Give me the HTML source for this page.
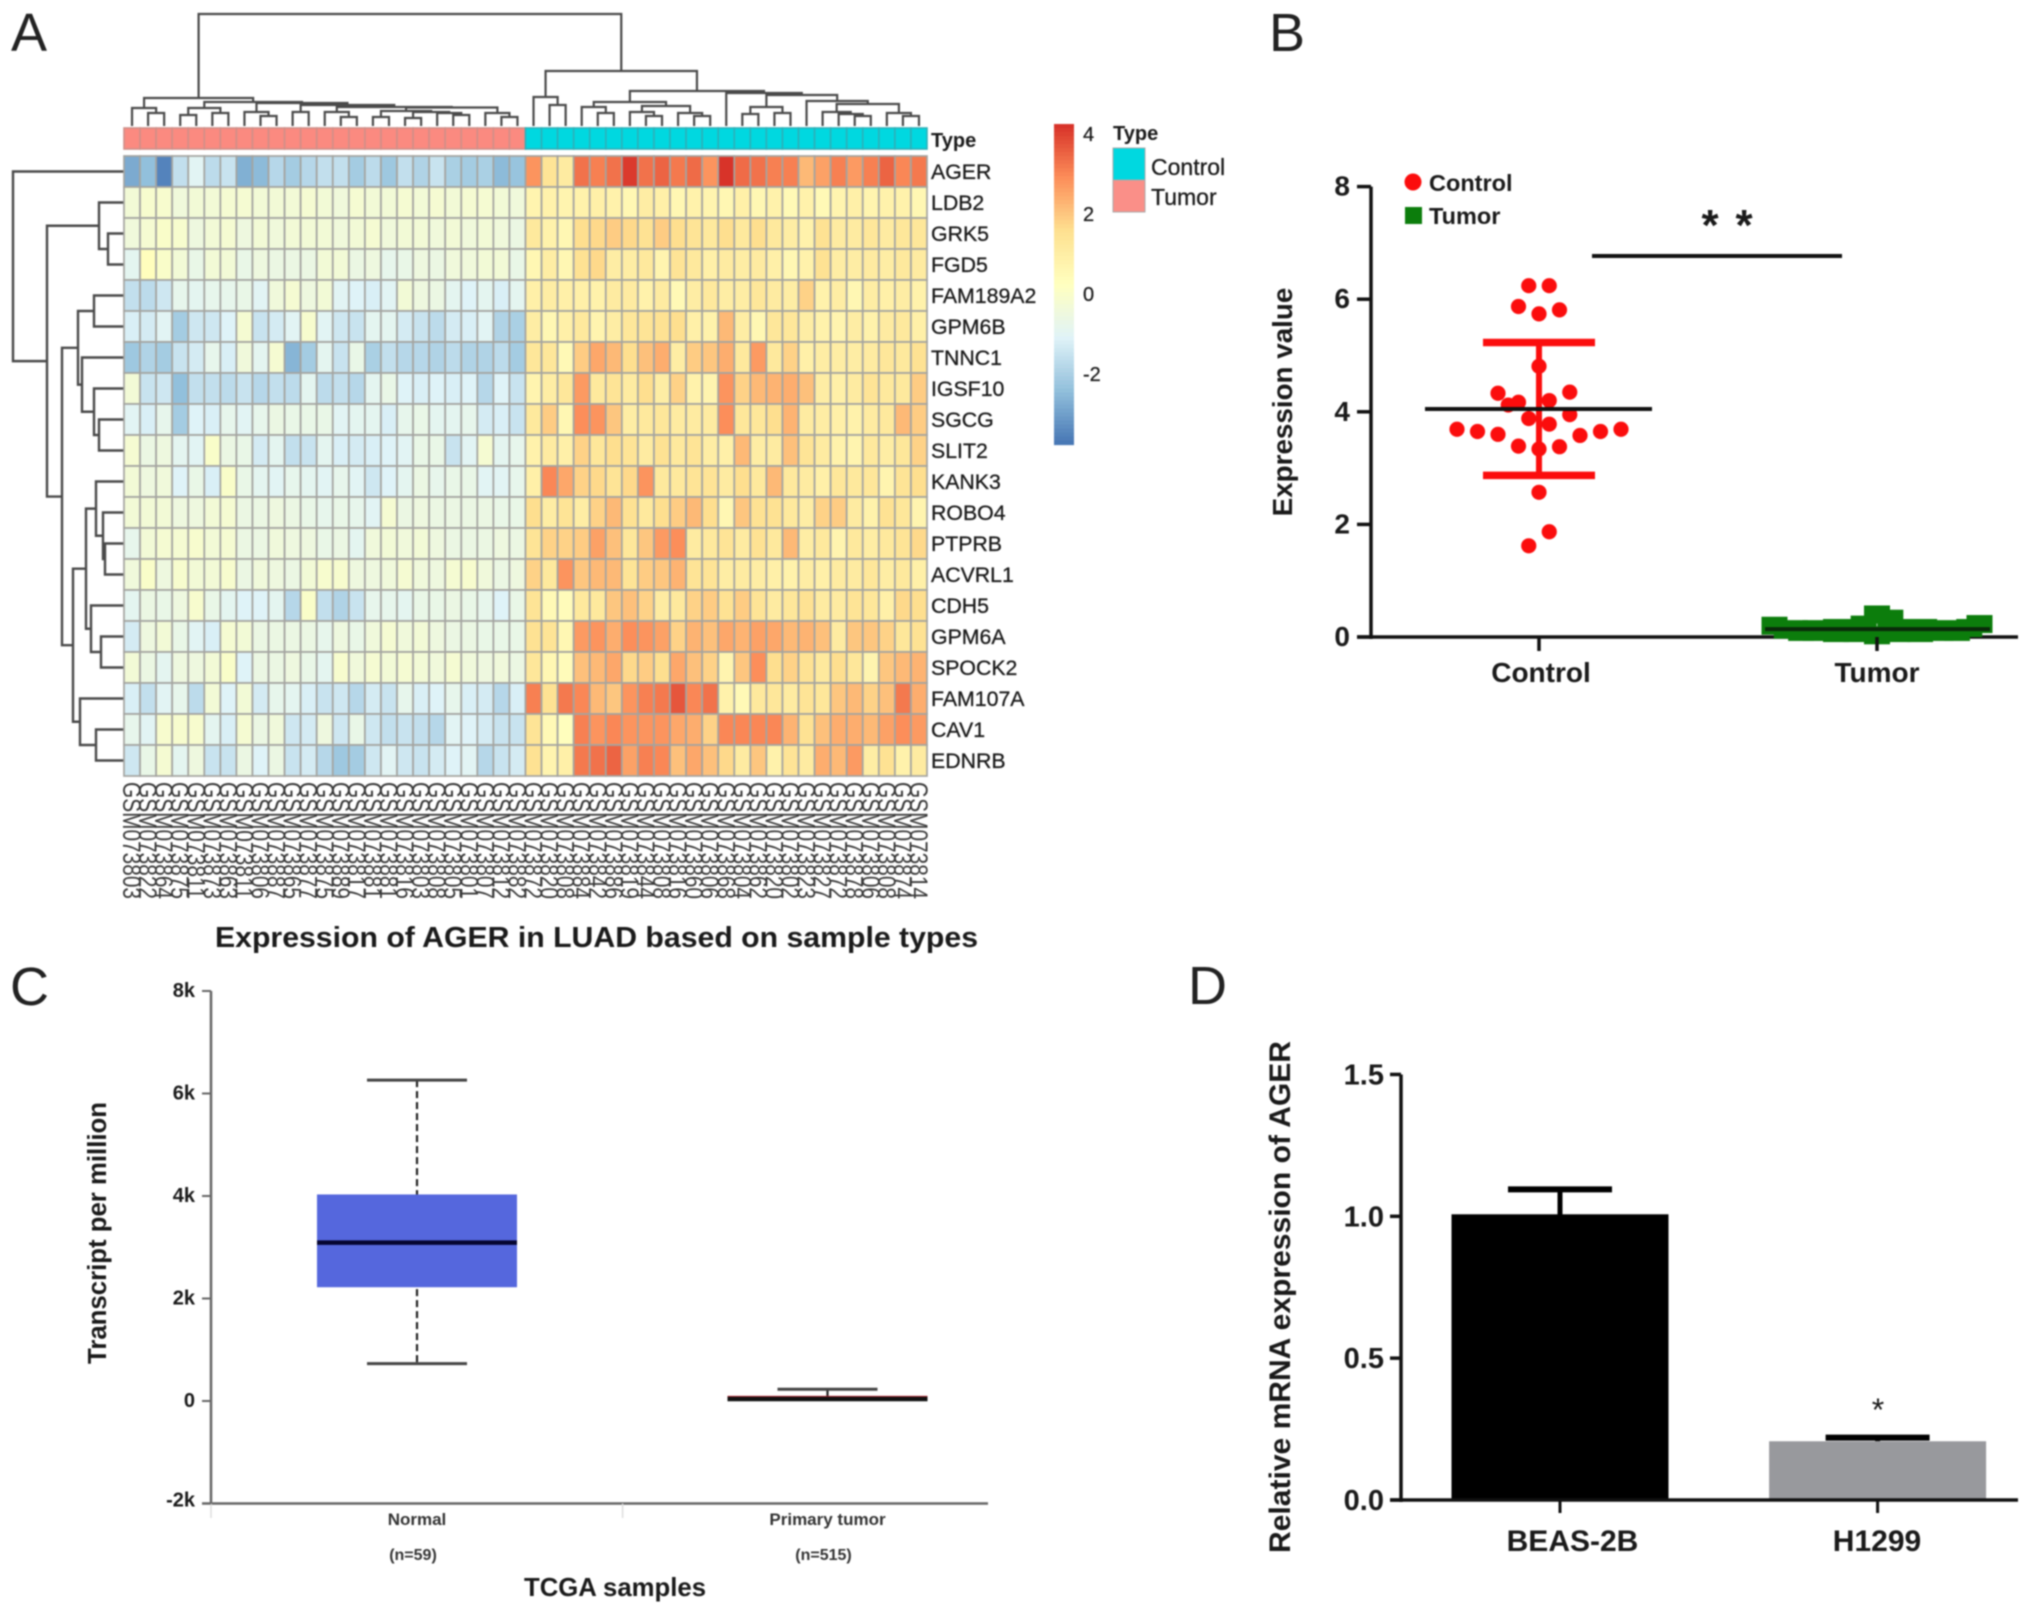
<!DOCTYPE html>
<html lang="en">
<head>
<meta charset="utf-8">
<title>AGER expression panels</title>
<style>
html,body{margin:0;padding:0;background:#fff;width:2031px;height:1613px;overflow:hidden}
svg{display:block;filter:blur(.85px)}
text{font-family:"Liberation Sans",Arial,sans-serif;fill:#1a1a1a}
.b{font-weight:bold}
.letter{font-size:54px;fill:#222}
</style>
</head>
<body>
<svg id="fig" xmlns="http://www.w3.org/2000/svg" width="2031" height="1613" viewBox="0 0 2031 1613">
  <rect width="2031" height="1613" fill="#fff"/>
  <g id="panelA"></g>
  <g id="panelB"></g>
  <g id="panelC"></g>
  <g id="panelD"></g>

  <text class="letter" x="11" y="51">A</text>
  <text class="letter" x="1269" y="51">B</text>
  <text class="letter" x="10" y="1005">C</text>
  <text class="letter" x="1188" y="1004">D</text>

  <text class="b" x="931" y="147" font-size="20">Type</text>
  <text class="b" x="1113" y="140" font-size="20">Type</text>
  <rect x="1113" y="148" width="32" height="32" fill="#00d8e0" stroke="#aaa"/>
  <rect x="1113" y="180" width="32" height="32" fill="#fa8f88" stroke="#aaa"/>
  <text x="1151" y="175" font-size="23" stroke="#1a1a1a" stroke-width=".3">Control</text>
  <text x="1151" y="205" font-size="23" stroke="#1a1a1a" stroke-width=".3">Tumor</text>
  <text class="b" x="215" y="947" font-size="29" textLength="763" lengthAdjust="spacingAndGlyphs">Expression of AGER in LUAD based on sample types</text>

  <text class="b" x="1429" y="191" font-size="23.5">Control</text>
  <text class="b" x="1429" y="224" font-size="23.5">Tumor</text>
  <circle cx="1413" cy="182" r="8.5" fill="#fb0d0d"/>
  <rect x="1405" y="207" width="17" height="17" fill="#0c7d0c"/>
  <text class="b" transform="translate(1292 402) rotate(-90)" text-anchor="middle" font-size="27.8">Expression value</text>
  <line x1="1592" y1="256" x2="1842" y2="256" stroke="#111" stroke-width="4"/>
  <text class="b" x="1710" y="240" text-anchor="middle" font-size="44">*</text>
  <text class="b" x="1744" y="240" text-anchor="middle" font-size="44">*</text>

  <text class="b" transform="translate(106 1233) rotate(-90)" text-anchor="middle" font-size="25.5" textLength="262" lengthAdjust="spacingAndGlyphs">Transcript per million</text>
  <text class="b" x="615" y="1596" text-anchor="middle" font-size="26" textLength="182" lengthAdjust="spacingAndGlyphs">TCGA samples</text>

  <text class="b" transform="translate(1290 1297) rotate(-90)" text-anchor="middle" font-size="30" textLength="512" lengthAdjust="spacingAndGlyphs">Relative mRNA expression of AGER</text>
  <text x="1878" y="1421" text-anchor="middle" font-size="32">*</text>
</svg>

<script>
/* ---------- Panel A data ---------- */
const genes = ['AGER','LDB2','GRK5','FGD5','FAM189A2','GPM6B','TNNC1','IGSF10','SGCG','SLIT2','KANK3','ROBO4','PTPRB','ACVRL1','CDH5','GPM6A','SPOCK2','FAM107A','CAV1','EDNRB'];
const heatTumor = [
[-2.8,-2.4,-3.5,-1.6,-1.0,-1.7,-1.5,-2.7,-2.5,-1.8,-2.1,-1.8,-1.6,-1.6,-2.1,-1.7,-2.2,-1.6,-1.9,-1.5,-2,-2.1,-2,-2.5,-2.3],
[-.3,-.1,-.1,-.4,-.3,-.3,-.2,-.2,-.3,-.3,-.3,-.2,-.3,-.4,-.2,-.3,-.3,-.2,-.3,-.2,-.3,-.2,-.2,-.3,-.4],
[-.4,-.2,0,-.1,-.5,-.3,-.2,-.5,-.3,-.4,-.3,-.3,-.3,-.4,-.3,-.2,-.4,-.3,-.3,-.4,-.3,-.4,-.3,-.4,-.6],
[-.9,.1,0,-.3,-.7,-.3,-.3,-.7,-.5,-.6,-.6,-.6,-.3,-.3,-.6,-.5,-.8,-.7,-.5,-.6,-.4,-.4,-.3,-.3,-.7],
[-1.6,-1.7,-1.4,-.8,-.9,-.8,-.8,-.7,-1,-.4,-.2,-.5,-.3,-1,-1.1,-1.2,-1,-.3,-.5,-.6,-.9,-1.1,-.9,-1.2,-.9],
[-1.2,-1.3,-1,-2.1,-1.4,-1.4,-1.1,-.2,-1.5,-1.3,-1,-.1,-1,-1.4,-1.5,-.9,-.9,-1.3,-1.5,-1.7,-1.3,-1.2,-1,-1.9,-2],
[-2.2,-1.9,-2.1,-1.5,-1.3,-.8,-1.2,-.4,-.9,-.2,-2.6,-2.1,-.9,-1.5,-.7,-2,-1.6,-1.8,-1.8,-1.9,-1.7,-1.9,-1.9,-1.7,-2.1],
[-.3,-1.5,-1.4,-2.4,-1.6,-1.6,-1.7,-1.5,-1.8,-1.6,-1.7,-.9,-1.7,-1.6,-1.8,-.9,-.7,-1.1,-1.2,-1.1,-1.2,-1.1,-1.8,-1.1,-1.5],
[-1,-1.2,-.8,-2.1,-1.1,-1.2,-.8,-1,-.8,-.6,-.7,-.7,-.7,-1,-.9,-.9,-1.2,-.8,-.7,-.9,-.9,-.8,-1.3,-1.2,-1.5],
[-.2,-.6,-.5,-.9,-1,0,-.6,-.7,-1.3,-.9,-1.6,-1.5,-.9,-1.2,-1.3,-1.2,-1.1,-1,-.7,-.7,-1.5,-1,-.2,-.9,-.8],
[-.3,-.5,-.4,-1.1,-.7,-1.2,0,-.7,-.9,-1,-.8,-.9,-1,-.8,-1,-1.4,-1.1,-.9,-.6,-.8,-.7,-.7,-1,-1,-.8],
[-.3,-.3,-.3,-.5,-.5,-.3,-.2,-.6,-.6,-.5,-.6,-.7,-.8,-.7,-.8,-1,-.2,-.6,-.5,-.6,-.6,-.6,-.6,-.7,-.7],
[-.8,-.3,-.2,-.2,-.1,-.3,-.2,-.6,-.6,-.4,-.5,-.5,-.7,-.6,-.9,-.4,-.3,-.4,-.3,-.5,-.6,-.6,-.6,-.5,-.6],
[-.4,0,-.5,-.1,-.3,-.3,-.1,-.6,-.4,-.5,-.6,-.3,-.1,-.1,-.5,-.5,-.4,-.2,-.4,-.5,-.2,-.1,-.4,-.6,-.5],
[-.9,-.6,-.7,-.5,-.1,-.7,-.9,-1.1,-1.1,-.9,-1.8,0,-1.6,-1.9,-1.5,-.8,-.8,-.9,-.7,-.7,-.6,-.7,-.8,-1.1,-.7],
[-1.3,-.5,-.3,-.7,-1,-1.2,-.2,-.3,-.6,-.6,-.6,-.6,-.8,-.5,-.7,-.4,-.2,-.4,-.3,-.5,-.6,-.6,-.7,-.7,-.7],
[-.3,-.6,-.9,-.5,-.5,-.3,0,-1.1,-.6,-.6,-.5,-.7,-.9,-.1,-.4,-.2,-.3,-.2,-.3,-.4,-.2,-.4,-.5,-.4,-.6],
[-1.2,-1.6,-1,-.8,-1.7,-.3,-1.1,-.3,-1.3,-.8,-.9,-1.2,-1.5,-1.4,-1.8,-1.3,-1.5,-.8,-1.2,-1.1,-.8,-1.2,-1.3,-1.8,-1.2],
[-.8,-1,-.1,-.1,-.1,-.9,-1.2,-.2,-.6,-.4,-1.4,-1.3,-.5,-1.4,-.7,-1.4,-1.6,-1.5,-1.6,-1.8,-1,-1.1,-1.3,-1.5,-1.5],
[-1.4,-.7,-.2,-.9,-.5,-1.5,-1.5,-.6,-1.1,-.6,-1.5,-1.3,-1.8,-2.2,-2.1,-1.4,-1,-1.4,-1.5,-1.3,-1.1,-1,-1.8,-1.5,-1.3]
];
const heatControl = [
[2.6,1.2,.9,3.3,2.9,3.3,4.1,3.3,3.5,3.2,3.4,2.6,4.2,3.4,3.3,3.1,3.1,2,2.4,2.9,2.5,2.9,3.5,3,3.2],
[.5,.6,.5,.6,.7,.6,.4,.8,.7,.4,.6,.5,.4,.7,.4,.6,.3,.6,.3,.5,.7,.5,.6,.6,.4],
[1,.6,.4,1.4,1.5,1.7,1.5,1.3,1.7,1.4,1.2,1,1.4,1,1.4,1,.8,.6,1.3,.9,.9,1.1,.9,1.1,1.1],
[.4,.8,.4,1.3,1.5,.8,.8,1,.5,1.2,1,.7,.9,.8,.9,.7,.4,.6,1.3,.8,.8,.9,.8,1,.9],
[.7,.8,.7,.7,.6,.9,.9,.6,.9,.3,.8,1,.8,.8,1.1,.9,.8,1.6,.6,.8,.4,.8,.7,.8,.6],
[.8,.4,.7,1,.5,.8,1.1,1.2,1.3,1.4,.7,.6,2,.8,.4,1.1,1.1,.8,.6,.5,.8,.6,.9,1,.7],
[1.1,1.1,.3,1.7,2.3,2,1.4,1.9,2.2,.8,1.7,1.8,2.2,1,2.5,1,1.6,.7,.8,.8,.8,.9,1.1,1,1.3],
[.5,.8,1.1,2.5,1,1.2,.9,1.4,.8,1.6,.6,.5,2.6,1.6,2,2.1,2.2,1.9,.8,.7,.9,1.2,1,1,1.7],
[1,1.7,.4,2.7,2.6,1.8,.8,1,1.1,.9,.9,.9,2.7,1.1,1.1,1.4,2.1,.9,.8,.7,.6,.9,1,2,1.7],
[.6,.9,.7,1.6,1.1,1.4,1.2,.9,1.3,1,1.2,.8,.7,2,.8,.9,1.9,1.2,.9,.6,.5,1,.8,1.1,1.6],
[.7,2.8,2.3,1.6,1.5,1.2,1.5,2.6,1,1,1.2,1.2,.9,1.4,1,2,1,.9,.7,1.1,1,1.1,.5,1.2,1.4],
[1.4,.8,1.2,.8,1.6,2,1.3,1,1.4,1.7,2,1.4,.4,1.8,1.3,1.3,1,.8,1.6,1.7,.9,.6,1.3,1.1,.5],
[1.2,1.6,1.6,1.7,2.4,1.9,1.1,1.8,2.5,2.7,.9,1,1.2,.9,1.3,1,2,.8,1,.5,1,.8,1,1.2,1.5],
[1.6,1,2.6,1.8,2,2,1.2,1.7,1.8,2.1,1.2,1.2,.8,.9,.8,.7,.6,.8,.7,.9,.9,1.1,.8,1,.7],
[1.2,.3,.2,1,1,1.8,1.9,1.6,.9,1,1.6,1.7,1.3,1.7,1.2,.9,1.1,1.3,.9,.9,1.2,1.1,.7,1.5,1.4],
[1.3,1.2,.4,2.5,2.6,2.2,2.7,2.6,2.4,1.6,2.1,1.9,2.3,2.1,2.4,2.3,2,2.1,1.9,.9,1.8,1.8,1.6,1.1,1.3],
[1.1,.4,.2,1.9,2,2.3,1.5,1.7,1.4,2.3,1.9,1.6,.5,1.8,2.7,1.4,1.6,1.3,1,1.4,1.1,.5,1.8,2,2.1],
[2.9,1.3,3.2,3,2,1.8,2.6,2.9,3.2,3.7,2.8,3.3,.6,.3,1,1.1,.9,1.2,1.1,1.8,2,1.6,1.9,3.2,2.2],
[1.2,.3,.1,2.9,2.6,3,2.6,2.6,2.6,2.3,2.2,1.6,3.0,2.8,3.0,2.8,2.1,1.3,1.9,2.2,2.2,2,2.4,2.7,2.5],
[1.3,.5,.7,3.2,3.3,3.5,2.4,3.1,3.0,1.9,2.3,1.9,1.5,.9,1.8,.6,1.2,.9,2.2,2,2.5,.8,1.3,.6,.9]
];
const sampleSuffixes = ['03','22','64','75','11','73','63','11','06','87','65','77','75','89','17','81','81','16','03','08','05','01','07','12','82','72','20','08','84','42','86','19','44','08','16','60','06','68','04','62','20','02','23','27','72','78','06','08','74','14'];
const colorbarTicks = [4,2,0,-2];
const groupNames = ['Tumor','Control'];
const groupCounts = [25,25];
const colTree = [114,
 [30,[20,0,[15,1,2]],[26,[20,[13,3,4],[15,5,6]],[25,[16,7,[12,8,9]],[23,[16,10,11],[21,[16,12,[11,13,14]],[20.5,[17,[11,15,16],[16,[10,17,18],[15,19,[13,20,21]]]],[15,22,[11,23,24]]]]]]]],
 [57,[31,25,[23,26,27]],[37,[26,[21,28,[15,29,30]],[22,[16,31,[12,32,33]],[15,34,[12,35,36]]]],[35,37,[33,[21,[14,38,39],[15,40,41]],[27,42,[24,[16,43,[14,44,[12,45,46]]],[15,47,[12,48,49]]]]]]]]
];
const rowTree = [111,0,[77,[25,1,[16,2,3]],[62,[46,[30,4,5],[42,6,[30,7,[25,8,9]]]],[51,[38,[28,10,[21,11,[19,12,13]]],[33,14,[23,15,16]]],[44,17,[28,18,19]]]]]];

/* ---------- Panel B data ---------- */
const scatterTicks = [0,2,4,6,8];
const scatterCategories = ['Control','Tumor'];
const controlValues = [6.24,6.24,5.87,5.74,5.81,4.81,4.33,4.35,4.12,4.17,4.2,3.88,3.95,3.78,3.69,3.65,3.6,3.58,3.65,3.69,3.39,3.34,3.38,2.57,1.87,1.62];
const controlSlots = [-.5,.5,-1,0,1,0,-2,1.5,-1.5,-1,.5,-.5,1.5,.5,-4,-3,-2,2,3,4,-1,0,1,0,.5,-.5];
const controlMean = [4.05];
const controlSd = [1.18];
const tumorValues = [.2,.13,.09,.09,.16,.16,.22,.4,.325,.16,.16,.09,.09,.16,.23,.14,.14,.07,.07,.03,.07,.07,.14];
const tumorSlots = [-5,-4.4,-3.7,-3,-2,-1.3,-.65,0,.65,1.5,2.3,3.1,3.9,4.5,5,-4,-3,-2,-1,0,1,2.1,3.4];
const tumorMean = [.14];

/* ---------- Panel C data ---------- */
const boxTicks = [-2000,0,2000,4000,6000,8000];
const boxTickLabels = ['-2k','0','2k','4k','6k','8k'];
const boxCategories = ['Normal','Primary tumor'];
const boxCounts = ['(n=59)','(n=515)'];
const boxWhiskerHigh = [6260,230];
const boxQ3 = [4030,100];
const boxMedian = [3090,40];
const boxQ1 = [2220,0];
const boxWhiskerLow = [730,0];

/* ---------- Panel D data ---------- */
const barTicks = [0,.5,1,1.5];
const barTickLabels = ['0.0','0.5','1.0','1.5'];
const barCategories = ['BEAS-2B','H1299'];
const barValues = [1.0,.207];
const barErrors = [.095,.013];

/* ---------- helpers ---------- */
const NS = 'http://www.w3.org/2000/svg';
function mk(parent, tag, attrs, txt){
  const e = document.createElementNS(NS, tag);
  for (const k in attrs) e.setAttribute(k, attrs[k]);
  if (txt !== undefined) e.textContent = txt;
  parent.appendChild(e);
  return e;
}
const A = document.getElementById('panelA');
const B = document.getElementById('panelB');
const C = document.getElementById('panelC');
const D = document.getElementById('panelD');

/* ---------- Panel A ---------- */
const hmLeft = 124, cellW = 16.06, hmTop = 156, cellH = 31;
const colX = i => hmLeft + cellW * i;
const rowY = r => hmTop + cellH * r;
const cbarTop = 124, cbarBottom = 444.5, cbarMax = 4.25, cbarMin = -3.76;
const cbarY = v => cbarTop + (cbarMax - v) / (cbarMax - cbarMin) * (cbarBottom - cbarTop);
const palette = [[69,117,180],[145,191,219],[224,243,248],[255,255,191],[254,224,144],[252,141,89],[215,48,39]];
function cmap(v){
  let t = (v - cbarMin) / (cbarMax - cbarMin) * (palette.length - 1);
  t = Math.max(0, Math.min(palette.length - 1.0001, t));
  const i = Math.floor(t), f = t - i;
  const c = palette[i].map((p, k) => Math.round(p + (palette[i + 1][k] - p) * f));
  return 'rgb(' + c.join(',') + ')';
}
const cellColor = v => cmap(v > 0 && v < 3 ? v + 0.2 : v);

/* column dendrogram */
const denY = h => 128 - h;
function drawCol(node){
  if (typeof node === 'number') return {p: colX(node) + cellW / 2, h: 2};
  const l = drawCol(node[1]), r = drawCol(node[2]);
  const seg = mk(A, 'path', {d: 'M' + l.p + ' ' + denY(l.h) + 'V' + denY(node[0]) + 'H' + r.p + 'V' + denY(r.h), fill: 'none', stroke: '#4a4a4a', 'stroke-width': 2.2});
  
  
  return {p: (l.p + r.p) / 2, h: node[0]};
}
drawCol(colTree);

/* row dendrogram */
const denX = h => hmLeft - h;
function drawRow(node){
  if (typeof node === 'number') return {p: rowY(node) + cellH / 2, h: 0};
  const l = drawRow(node[1]), r = drawRow(node[2]);
  const seg = mk(A, 'path', {d: 'M' + denX(l.h) + ' ' + l.p + 'H' + denX(node[0]) + 'V' + r.p + 'H' + denX(r.h), fill: 'none', stroke: '#4a4a4a', 'stroke-width': 2.4});
  
  
  return {p: (l.p + r.p) / 2, h: node[0]};
}
drawRow(rowTree);

/* annotation bar */
let colIndex = 0;
groupCounts.forEach((count, g) => {
  for (let k = 0; k < count; k++){
    const cell = mk(A, 'rect', {x: colX(colIndex), y: 128, width: cellW, height: 21, fill: g === 0 ? '#fb8a80' : '#00d8e0', stroke: g === 0 ? '#cf8f88' : '#2db0b8', 'stroke-width': 1.6});
    
    
    colIndex++;
  }
});

/* heatmap cells */
genes.forEach((gene, r) => {
  const values = heatTumor[r].concat(heatControl[r]);
  values.forEach((v, c) => {
    const cell = mk(A, 'rect', {x: colX(c), y: rowY(r), width: cellW, height: cellH, fill: cellColor(v), stroke: '#a4a4a0', 'stroke-width': 1.7});
    
    
  });
  const label = mk(A, 'text', {x: 931, y: rowY(r) + cellH / 2 + 7.5, 'font-size': 21.3, stroke: '#1a1a1a', 'stroke-width': .3}, gene);
  
  
});

/* sample labels */
sampleSuffixes.forEach((s, c) => {
  const x = colX(c) + cellW / 2;
  const label = mk(A, 'text', {transform: 'translate(' + (x - 9) + ' 782) rotate(90)', 'font-size': 25, textLength: 117, lengthAdjust: 'spacingAndGlyphs', style: 'fill:#383838'}, 'GSM0738' + s);
  
  
});

/* colorbar */
const cbarSteps = 80;
for (let i = 0; i < cbarSteps; i++){
  const v0 = cbarMax - (cbarMax - cbarMin) * i / cbarSteps;
  const v1 = cbarMax - (cbarMax - cbarMin) * (i + 1) / cbarSteps;
  const seg = mk(A, 'rect', {x: 1054, y: cbarY(v0), width: 20, height: cbarY(v1) - cbarY(v0) + .6, fill: cmap((v0 + v1) / 2)});
  
  
}
colorbarTicks.forEach(t => {
  const label = mk(A, 'text', {x: 1083, y: cbarY(t) + 7, 'font-size': 20, stroke: '#1a1a1a', 'stroke-width': .25}, String(t));
  
  
});

/* ---------- Panel B ---------- */
const yB = v => 637 - v * 56.3;
const slotB = 20.5;
const xCatB = [1539, 1877];
const axisYB = mk(B, 'line', {x1: 1371, y1: yB(8), x2: 1371, y2: yB(0) + 2, stroke: '#111', 'stroke-width': 3.5});


scatterTicks.forEach(t => {
  const tick = mk(B, 'line', {x1: 1357, y1: yB(t), x2: 1371, y2: yB(t), stroke: '#111', 'stroke-width': 3.5});
  
  
  const label = mk(B, 'text', {x: 1350, y: yB(t) + 9, 'text-anchor': 'end', 'font-size': 28, 'font-weight': 'bold'}, String(t));
  
  
});
controlValues.forEach((v, i) => {
  const dot = mk(B, 'circle', {cx: xCatB[0] + controlSlots[i] * slotB, cy: yB(v), r: 7.6, fill: '#fb0d0d'});
  
  
});
const sdStem = mk(B, 'line', {x1: xCatB[0], y1: yB(controlMean[0] + controlSd[0]), x2: xCatB[0], y2: yB(controlMean[0] - controlSd[0]), stroke: '#fb0d0d', 'stroke-width': 6});


[1, -1].forEach(sign => {
  const cap = mk(B, 'line', {x1: xCatB[0] - 56, y1: yB(controlMean[0] + sign * controlSd[0]), x2: xCatB[0] + 56, y2: yB(controlMean[0] + sign * controlSd[0]), stroke: '#fb0d0d', 'stroke-width': 7.5});
  
  
});
const meanC = mk(B, 'line', {x1: xCatB[0] - 114, y1: yB(controlMean[0]), x2: xCatB[0] + 113, y2: yB(controlMean[0]), stroke: '#111', 'stroke-width': 4});


const axisXB = mk(B, 'line', {x1: 1357, y1: yB(0), x2: 2018, y2: yB(0), stroke: '#111', 'stroke-width': 3.5});


tumorValues.forEach((v, i) => {
  const sq = mk(B, 'rect', {x: xCatB[1] + tumorSlots[i] * slotB - 13, y: yB(v) - 9, width: 26, height: 18, fill: '#0c7d0c'});
  
  
});
const meanT = mk(B, 'line', {x1: xCatB[1] - 112, y1: yB(tumorMean[0]), x2: xCatB[1] + 113, y2: yB(tumorMean[0]), stroke: '#0a2a0a', 'stroke-width': 4});


scatterCategories.forEach((c, i) => {
  const tick = mk(B, 'line', {x1: xCatB[i], y1: yB(0), x2: xCatB[i], y2: yB(0) + 14, stroke: '#111', 'stroke-width': 3.5});
  
  
  const label = mk(B, 'text', {x: xCatB[i] + (i === 0 ? 2 : 0), y: 682, 'text-anchor': 'middle', 'font-size': 28, 'font-weight': 'bold'}, c);
  
  
});

/* ---------- Panel C ---------- */
const yC = v => 1401 - v * 0.05125;
const xCatC = [417, 827.5];
const axisYC = mk(C, 'line', {x1: 211, y1: yC(8000), x2: 211, y2: yC(-2000), stroke: '#666', 'stroke-width': 2.5});


const axisXC = mk(C, 'line', {x1: 202, y1: yC(-2000), x2: 988, y2: yC(-2000), stroke: '#666', 'stroke-width': 2.5});


[211, 622.6].forEach(x => {
  const sep = mk(C, 'line', {x1: x, y1: yC(-2000), x2: x, y2: 1518, stroke: '#ddd', 'stroke-width': 1.5});
  
  
});
boxTicks.forEach((t, i) => {
  const tick = mk(C, 'line', {x1: 202, y1: yC(t), x2: 211, y2: yC(t), stroke: '#666', 'stroke-width': 2});
  
  
  const label = mk(C, 'text', {x: 195, y: yC(t) + (t === -2000 ? 3 : 6), 'text-anchor': 'end', 'font-size': 20, 'font-weight': 'bold'}, boxTickLabels[i]);
  
  
});
boxCategories.forEach((c, i) => {
  const x = xCatC[i];
  const w = mk(C, 'line', {x1: x, y1: yC(boxWhiskerHigh[i]), x2: x, y2: yC(boxWhiskerLow[i]), stroke: '#222', 'stroke-width': 2.2, 'stroke-dasharray': i === 0 ? '7 4' : 'none'});
  
  
  const capHi = mk(C, 'line', {x1: x - 50, y1: yC(boxWhiskerHigh[i]), x2: x + 50, y2: yC(boxWhiskerHigh[i]), stroke: '#444', 'stroke-width': 3});
  
  
  if (i === 0) {
    const capLo = mk(C, 'line', {x1: x - 50, y1: yC(boxWhiskerLow[i]), x2: x + 50, y2: yC(boxWhiskerLow[i]), stroke: '#444', 'stroke-width': 3});
    
    
  }
  const box = mk(C, 'rect', {x: x - 100, y: yC(boxQ3[i]), width: 200, height: yC(boxQ1[i]) - yC(boxQ3[i]), fill: i === 0 ? '#5567dd' : '#b01c28'});
  
  
  const med = mk(C, 'line', {x1: x - 100, y1: yC(boxMedian[i]), x2: x + 100, y2: yC(boxMedian[i]), stroke: i === 0 ? '#050530' : '#111', 'stroke-width': 4.5});
  
  
  const label = mk(C, 'text', {x: x, y: 1525, 'text-anchor': 'middle', 'font-size': 17, 'font-weight': 'bold', style: 'fill:#333'}, c);
  
  
  const count = mk(C, 'text', {x: x - 4, y: 1560, 'text-anchor': 'middle', 'font-size': 16, 'font-weight': 'bold', style: 'fill:#333'}, boxCounts[i]);
  
  
});

/* ---------- Panel D ---------- */
const yD = v => 1500 - v * 283.7;
const xCatD = [1560, 1877.6];
const barW = 217;
const barFill = ['#000', '#98999d'];
barCategories.forEach((c, i) => {
  const stem = mk(D, 'line', {x1: xCatD[i], y1: yD(barValues[i] + barErrors[i]), x2: xCatD[i], y2: yD(barValues[i]), stroke: '#000', 'stroke-width': 5});
  
  
  const cap = mk(D, 'line', {x1: xCatD[i] - 52, y1: yD(barValues[i] + barErrors[i]), x2: xCatD[i] + 52, y2: yD(barValues[i] + barErrors[i]), stroke: '#000', 'stroke-width': 6});
  
  
  const bar = mk(D, 'rect', {x: xCatD[i] - barW / 2, y: yD(barValues[i]) - (i === 0 ? 2 : 0), width: barW, height: yD(0) - yD(barValues[i]) + (i === 0 ? 2 : 0), fill: barFill[i]});
  
  
  const tick = mk(D, 'line', {x1: xCatD[i], y1: yD(0), x2: xCatD[i], y2: yD(0) + 13, stroke: '#111', 'stroke-width': 3});
  
  
  const label = mk(D, 'text', {x: i === 0 ? 1572.5 : 1877, y: 1551, 'text-anchor': 'middle', 'font-size': 30, 'font-weight': 'bold'}, c);
  
  
});
const axisYD = mk(D, 'line', {x1: 1401, y1: yD(1.5), x2: 1401, y2: yD(0) + 2, stroke: '#111', 'stroke-width': 3.5});


const axisXD = mk(D, 'line', {x1: 1390, y1: yD(0), x2: 2018, y2: yD(0), stroke: '#111', 'stroke-width': 3.5});


barTicks.forEach((t, i) => {
  const tick = mk(D, 'line', {x1: 1390, y1: yD(t), x2: 1401, y2: yD(t), stroke: '#111', 'stroke-width': 3.5});
  
  
  const label = mk(D, 'text', {x: 1384, y: yD(t) + 10, 'text-anchor': 'end', 'font-size': 29, 'font-weight': 'bold'}, barTickLabels[i]);
  
  
});
</script>
</body>
</html>
